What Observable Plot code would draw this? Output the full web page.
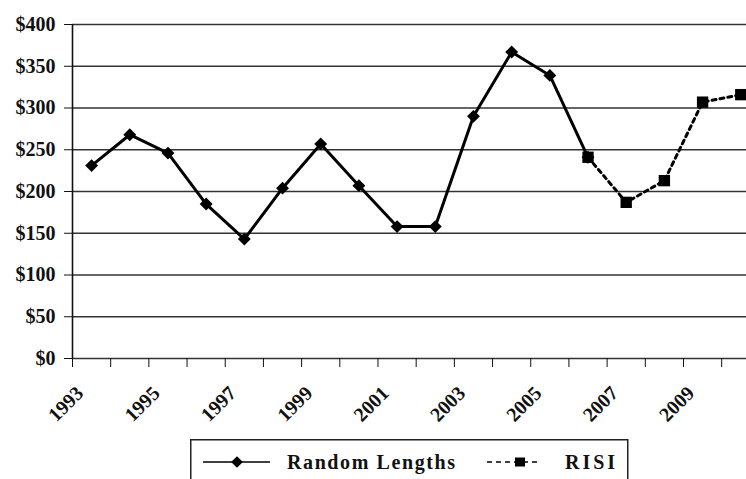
<!DOCTYPE html>
<html><head><meta charset="utf-8">
<script src="https://cdn.jsdelivr.net/npm/d3@7"></script>
<script src="https://cdn.jsdelivr.net/npm/@observablehq/plot@0.6"></script>
<style>
body{margin:0;background:#fff;font-family:'Liberation Serif';font-weight:bold}
#chart{width:746px;height:479px;overflow:hidden}
</style>
</head><body><div id="chart"></div>
<script>
const categoryYears = [1993,1994,1995,1996,1997,1998,1999,2000,2001,2002,2003,2004,2005,2006,2007,2008,2009,2010];
const labelYears = [1993,1995,1997,1999,2001,2003,2005,2007,2009];
const rlYears = [1993,1994,1995,1996,1997,1998,1999,2000,2001,2002,2003,2004,2005,2006];
const rlValues = [231,268,246,185,143,204,257,207,158,158,290,367,339,241];
const risiYears = [2006,2007,2008,2009,2010];
const risiValues = [241,187,213,307,316];
const yTicks = [0,50,100,150,200,250,300,350,400];
const seriesNames = ["Random Lengths","RISI"];

const rl = rlYears.map((year,i)=>({year, value: rlValues[i]}));
const risi = risiYears.map((year,i)=>({year, value: risiValues[i]}));
const tickBounds = categoryYears.map(y => y - 0.5);

const font = "Liberation Serif";

const plot = Plot.plot({
  width: 746, height: 439,
  marginLeft: 72, marginRight: 0, marginTop: 24, marginBottom: 81,
  x: {domain: [1992.5, 2010.15], label: null},
  y: {domain: [0, 400], label: null},
  style: {background: "#fff", color: "#111"},
  marks: [
    Plot.ruleY(yTicks, {stroke: "#333", strokeWidth: 1.5}),
    Plot.ruleX([1992.5], {stroke: "#111", strokeWidth: 1.6}),
    Plot.axisY({ticks: yTicks, tickFormat: d => "$" + d, tickSize: 8, tickPadding: 9, fontSize: 20, fontWeight: "bold", fontFamily: font, label: null}),
    Plot.axisX({ticks: tickBounds, tickFormat: () => "", tickSize: 9, label: null}),
    Plot.text(labelYears, {x: d => d, text: d => String(d), frameAnchor: "bottom", rotate: -45, textAnchor: "end", lineAnchor: "bottom", dx: -7, dy: 36, fontSize: 20, fontWeight: "bold", fontFamily: font, fill: "#111"}),
    Plot.line(rl, {x: "year", y: "value", stroke: "#000", strokeWidth: 3}),
    Plot.dot(rl, {x: "year", y: "value", symbol: "diamond2", r: 5.8, fill: "#000", stroke: "none"}),
    Plot.line(risi, {x: "year", y: "value", stroke: "#000", strokeWidth: 3, strokeDasharray: "4,4"}),
    Plot.dot(risi, {x: "year", y: "value", symbol: "square", r: 6.4, fill: "#000", stroke: "none"})
  ]
});
plot.setAttribute("font-family", font);
plot.style.display = "block";
document.getElementById("chart").appendChild(plot);

// Legend below the chart
const leg = d3.create("svg").attr("width", 746).attr("height", 40).style("display","block");
leg.append("rect").attr("x", 190.75).attr("y", 0.75).attr("width", 437).attr("height", 70)
  .attr("fill", "none").attr("stroke", "#222").attr("stroke-width", 1.5);
const cy = 23;
leg.append("line").attr("x1", 203).attr("x2", 270).attr("y1", cy).attr("y2", cy).attr("stroke", "#000").attr("stroke-width", 1.5);
leg.append("path").attr("d", d3.symbol(d3.symbolDiamond2, Math.PI*28)()).attr("transform", `translate(237,${cy})`).attr("fill", "#000");
leg.append("text").attr("x", 287).attr("y", cy + 6.5).attr("textLength", 168).attr("lengthAdjust", "spacing")
  .attr("font-family", font).attr("font-weight", "bold").attr("font-size", 20).attr("fill", "#111").text(seriesNames[0]);
leg.append("line").attr("x1", 487).attr("x2", 537).attr("y1", cy).attr("y2", cy).attr("stroke", "#000").attr("stroke-width", 1.5).attr("stroke-dasharray", "5,4");
leg.append("rect").attr("x", 515).attr("y", cy - 4.5).attr("width", 10).attr("height", 9).attr("fill", "#000");
leg.append("text").attr("x", 565).attr("y", cy + 6.5).attr("textLength", 50).attr("lengthAdjust", "spacing")
  .attr("font-family", font).attr("font-weight", "bold").attr("font-size", 20).attr("fill", "#111").text(seriesNames[1]);
document.getElementById("chart").appendChild(leg.node());
</script>
</body></html>
